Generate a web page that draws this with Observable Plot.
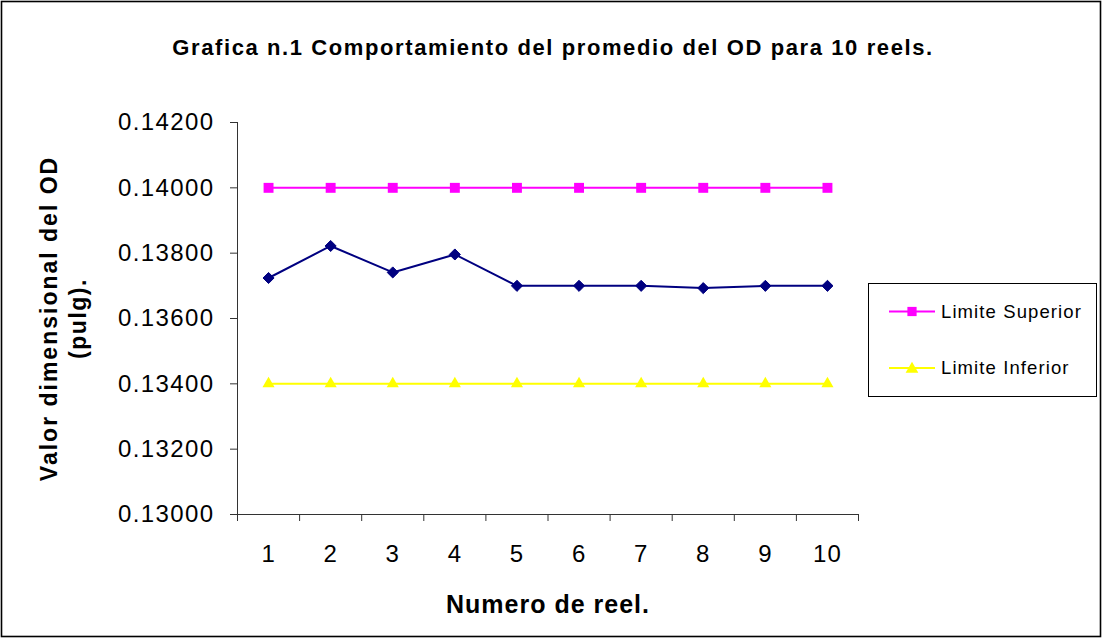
<!DOCTYPE html>
<html>
<head>
<meta charset="utf-8">
<script src="https://cdn.jsdelivr.net/npm/d3@7"></script>
<script src="https://cdn.jsdelivr.net/npm/@observablehq/plot@0.6"></script>
<style>
  html, body { margin: 0; padding: 0; background: white; }
  #chart { width: 1103px; height: 639px; }
  g[aria-label="y-axis tick label"] text { letter-spacing: 1.4px; }
  g[aria-label="x-axis tick label"] text { letter-spacing: 1px; }
</style>
</head>
<body>
<div id="chart"></div>
<script>
const reels = [1, 2, 3, 4, 5, 6, 7, 8, 9, 10];
const promedio = [0.13724, 0.13822, 0.13741, 0.13796, 0.13700, 0.13700, 0.13700, 0.13693, 0.13700, 0.13700];
const limiteSuperior = [0.14, 0.14, 0.14, 0.14, 0.14, 0.14, 0.14, 0.14, 0.14, 0.14];
const limiteInferior = [0.134, 0.134, 0.134, 0.134, 0.134, 0.134, 0.134, 0.134, 0.134, 0.134];
const yTicks = [0.130, 0.132, 0.134, 0.136, 0.138, 0.140, 0.142];
const xBoundaries = [0.5, 1.5, 2.5, 3.5, 4.5, 5.5, 6.5, 7.5, 8.5, 9.5, 10.5];
const seriesNames = ["Promedio", "Limite Superior", "Limite Inferior"];
const seriesColors = ["#000080", "#FF00FF", "#FFFF00"];
const seriesSymbols = ["diamond2", "square", "triangle"];
const title = "Grafica n.1 Comportamiento del promedio del OD para 10 reels.";
const yLabel = "Valor dimensional del OD\n(pulg).";
const xLabel = "Numero de reel.";

const font = "'Liberation Sans', Arial, sans-serif";

const rows = (vals) => reels.map((r, i) => ({reel: r, value: vals[i]}));
const series = [promedio, limiteSuperior, limiteInferior].map(rows);
const dotRadius = [5, 5.6, 4.5];

const marks = [
  Plot.ruleX([0.5], {stroke: "#333", y1: 0.13, y2: 0.142}),
  Plot.ruleY([0.13], {stroke: "#333", x1: 0.5, x2: 10.5}),
  Plot.axisY({ticks: yTicks, tickSize: 7, tickPadding: 16, tickFormat: d3.format(".5f"), fontSize: 24, label: null, stroke: "#333"}),
  Plot.axisX({ticks: xBoundaries, tickSize: 7, tickFormat: () => "", label: null, stroke: "#333"}),
  Plot.axisX({ticks: reels, tickSize: 0, tickPadding: 30, fontSize: 24, label: null})
];
series.forEach((data, i) => {
  marks.push(Plot.line(data, {x: "reel", y: "value", stroke: seriesColors[i], strokeWidth: 2}));
  marks.push(Plot.dot(data, {x: "reel", y: "value", symbol: () => seriesSymbols[i], fill: seriesColors[i],
    stroke: i === 0 ? seriesColors[i] : "none", strokeWidth: 1, r: dotRadius[i]}));
});
marks.push(
  Plot.text([title], {frameAnchor: "top", lineAnchor: "middle", textAnchor: "middle", dx: 5, dy: -75,
    fontSize: 22, fontWeight: "bold", text: d => d}),
  Plot.text([yLabel], {frameAnchor: "left", lineAnchor: "middle", textAnchor: "middle", dx: -175.5, rotate: -90,
    fontSize: 23, fontWeight: "bold", lineHeight: 1.26, text: d => d}),
  Plot.text([xLabel], {frameAnchor: "bottom", lineAnchor: "middle", textAnchor: "middle", dy: 90,
    fontSize: 25, fontWeight: "bold", text: d => d})
);

const plot = Plot.plot({
  width: 1103,
  height: 639,
  marginLeft: 237,
  marginRight: 245,
  marginTop: 122,
  marginBottom: 125,
  style: {fontFamily: font, color: "black", background: "white", overflow: "visible"},
  x: {type: "linear", domain: [0.5, 10.5]},
  y: {type: "linear", domain: [0.13, 0.142]},
  marks
});

const svg = d3.select(plot);
svg.selectAll("text").each(function() {
  const t = d3.select(this);
  const s = t.text();
  if (s === title) t.attr("letter-spacing", "1.6px");
  if (s === xLabel) t.attr("letter-spacing", "1px");
});
svg.selectAll("text tspan").each(function() {
  const t = d3.select(this);
  const s = t.text();
  if (s === "Valor dimensional del OD") t.attr("letter-spacing", "2px");
  if (s === "(pulg).") t.attr("letter-spacing", "1.5px");
});

// border
svg.append("rect")
  .attr("x", 1.5).attr("y", 1.5).attr("width", 1099).attr("height", 635)
  .attr("fill", "none").attr("stroke", "black").attr("stroke-width", 1.6);

// legend
const legend = svg.append("g").attr("font-family", font).attr("text-anchor", "start");
legend.append("rect")
  .attr("x", 868.5).attr("y", 283.5).attr("width", 228).attr("height", 113)
  .attr("fill", "white").attr("stroke", "black").attr("stroke-width", 1);
[1, 2].forEach((s, k) => {
  const cy = 311.5 + k * 56.5;
  legend.append("line").attr("x1", 889).attr("x2", 935).attr("y1", cy).attr("y2", cy)
    .attr("stroke", seriesColors[s]).attr("stroke-width", 2);
  const sym = s === 1 ? d3.symbolSquare : d3.symbolTriangle;
  legend.append("path").attr("d", d3.symbol(sym, s === 1 ? 85 : 70)()).attr("transform", `translate(912,${cy + (s === 2 ? 1 : 0)})`)
    .attr("fill", seriesColors[s]);
  legend.append("text").attr("x", 941).attr("y", cy).attr("dy", "0.35em")
    .attr("font-size", 18.5).attr("letter-spacing", "1.1px").text(seriesNames[s]);
});

document.getElementById("chart").appendChild(plot);
</script>
</body>
</html>
